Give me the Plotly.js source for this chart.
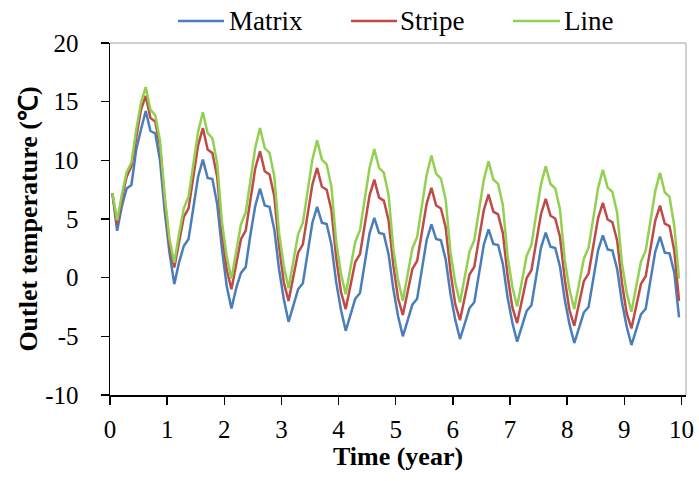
<!DOCTYPE html>
<html>
<head>
<meta charset="utf-8">
<script src="https://cdn.plot.ly/plotly-3.0.1.min.js"></script>
<style>html,body{margin:0;padding:0;background:#fff;}#chart{width:699px;height:481px;}</style>
</head>
<body>
<div id="chart"></div>
<script>
// Monthly samples over 10 years (mid-month), values in °C
var matrix = [
  7.2, 4.0, 6.1, 7.6, 7.9, 10.9, 12.6, 14.2, 12.5, 12.3, 10.0, 5.6,
  2.1, -0.55, 1.3, 2.7, 3.3, 6.0, 8.6, 10.06, 8.5, 8.4, 6.3, 2.5,
  -0.7, -2.63, -0.9, 0.4, 0.9, 3.7, 6.1, 7.6, 6.15, 6.03, 4.11, 0.7,
  -1.84, -3.76, -2.26, -0.99, -0.48, 2.13, 4.68, 6.04, 4.69, 4.58, 2.8, -0.38,
  -2.74, -4.53, -3.06, -1.8, -1.3, 1.26, 3.76, 5.1, 3.81, 3.71, 2.0, -0.97,
  -3.29, -5.0, -3.54, -2.3, -1.8, 0.73, 3.21, 4.54, 3.29, 3.19, 1.54, -1.39,
  -3.58, -5.23, -3.8, -2.59, -2.1, 0.38, 2.81, 4.11, 2.88, 2.79, 1.17, -1.7,
  -3.84, -5.46, -4.04, -2.83, -2.35, 0.12, 2.54, 3.83, 2.63, 2.53, 0.94, -1.87,
  -3.98, -5.57, -4.17, -2.97, -2.5, -0.06, 2.33, 3.6, 2.4, 2.31, 0.73, -2.07,
  -4.16, -5.74, -4.33, -3.13, -2.65, -0.19, 2.21, 3.49, 2.13, 2.08, 0.43, -3.39
];
var stripe = [
  7.2, 4.5, 6.8, 8.6, 9.5, 12.0, 14.3, 15.5, 13.6, 13.3, 11.2, 6.6,
  2.7, 0.86, 3.08, 5.18, 5.91, 8.59, 11.28, 12.75, 10.92, 10.62, 8.63, 4.04,
  0.69, -0.99, 1.21, 3.28, 4.01, 6.65, 9.31, 10.77, 9.07, 8.79, 6.94, 2.69,
  -0.42, -1.98, 0.14, 2.13, 2.84, 5.39, 7.94, 9.35, 7.75, 7.49, 5.74, 1.72,
  -1.21, -2.68, -0.62, 1.33, 2.01, 4.5, 6.99, 8.36, 6.82, 6.57, 4.89, 1.04,
  -1.78, -3.19, -1.16, 0.74, 1.42, 3.86, 6.31, 7.65, 6.15, 5.9, 4.27, 0.5,
  -2.25, -3.62, -1.62, 0.27, 0.93, 3.34, 5.76, 7.09, 5.63, 5.39, 3.8, 0.14,
  -2.53, -3.87, -1.89, -0.03, 0.63, 3.01, 5.41, 6.72, 5.28, 5.04, 3.47, -0.14,
  -2.78, -4.1, -2.14, -0.3, 0.35, 2.71, 5.08, 6.38, 4.96, 4.72, 3.17, -0.41,
  -3.02, -4.33, -2.37, -0.53, 0.12, 2.48, 4.85, 6.15, 4.6, 4.4, 2.3, -1.98
];
var line = [
  7.2, 4.9, 7.1, 9.0, 9.8, 12.6, 14.9, 16.24, 14.3, 13.85, 11.7, 6.9,
  3.3, 1.28, 3.73, 5.91, 6.92, 9.68, 12.42, 14.1, 12.33, 11.88, 9.81, 4.78,
  1.82, -0.1, 2.35, 4.54, 5.55, 8.32, 11.07, 12.75, 11.05, 10.63, 8.64, 3.83,
  0.99, -0.9, 1.56, 3.69, 4.68, 7.37, 10.06, 11.7, 10.06, 9.66, 7.74, 3.1,
  0.36, -1.41, 0.95, 3.06, 4.04, 6.7, 9.35, 10.97, 9.35, 8.95, 7.06, 2.47,
  -0.23, -1.98, 0.38, 2.49, 3.47, 6.13, 8.78, 10.4, 8.84, 8.45, 6.62, 2.19,
  -0.43, -2.12, 0.18, 2.23, 3.18, 5.77, 8.34, 9.92, 8.37, 7.99, 6.18, 1.8,
  -0.79, -2.46, -0.18, 1.86, 2.8, 5.37, 7.93, 9.5, 7.98, 7.6, 5.82, 1.51,
  -1.04, -2.68, -0.41, 1.61, 2.55, 5.1, 7.64, 9.2, 7.68, 7.31, 5.54, 1.26,
  -1.28, -2.91, -0.65, 1.36, 2.3, 4.85, 7.38, 8.93, 7.28, 6.89, 4.39, -0.08
];
var seriesNames = ["Matrix", "Stripe", "Line"];
var xTicks = [0, 1, 2, 3, 4, 5, 6, 7, 8, 9, 10];
var yTicks = [-10, -5, 0, 5, 10, 15, 20];
var samplesPerYear = 12;

var time = matrix.map(function (_, i) { return (i + 0.5) / samplesPerYear; });
var colors = ["#4A7EBB", "#BE4B48", "#92D050"];
var series = [matrix, stripe, line];

var font = "Liberation Serif";
var W = 699, H = 481, M = {l: 110, r: 13, t: 43, b: 86};
var pw = W - M.l - M.r, ph = H - M.t - M.b;
function px(x) { return (x - M.l) / pw; }
function py(y) { return (H - M.b - y) / ph; }

var traces = series.map(function (s, i) {
  return {
    x: time, y: s, type: "scatter", mode: "lines", name: seriesNames[i],
    line: {color: colors[i], width: 2.5}, showlegend: false
  };
});

// Manual legend (Excel-style long line samples)
var legendLines = [[178, 224], [351, 397], [513, 560]];
var legendText = [229, 400, 564];
var legendY = 21;
var shapes = [
  {type: "line", xref: "paper", yref: "paper", x0: 0, x1: 1, y0: 1, y1: 1, line: {color: "#BFBFBF", width: 1.5}},
  {type: "line", xref: "paper", yref: "paper", x0: 1, x1: 1, y0: 0, y1: 1, line: {color: "#BFBFBF", width: 1.5}}
];
var annotations = [];
seriesNames.forEach(function (n, i) {
  shapes.push({type: "line", xref: "paper", yref: "paper",
    x0: px(legendLines[i][0]), x1: px(legendLines[i][1]), y0: py(legendY), y1: py(legendY),
    line: {color: colors[i], width: 2.5}});
  annotations.push({xref: "paper", yref: "paper", x: px(legendText[i] - 2), y: py(legendY),
    xanchor: "left", yanchor: "middle", showarrow: false, text: n,
    font: {family: font, size: 27, color: "#000"}});
});

var layout = {
  width: W, height: H,
  margin: M,
  paper_bgcolor: "#fff", plot_bgcolor: "#fff",
  font: {family: font, color: "#000", size: 25},
  showlegend: false,
  xaxis: {
    range: [0, 10.08], tickvals: xTicks, ticktext: xTicks.map(String),
    showgrid: false, zeroline: false, showline: true, linecolor: "#000", linewidth: 1.5,
    ticks: "outside", ticklen: 8, tickwidth: 1.5, tickcolor: "#000",
    ticklabelstandoff: 3,
    tickfont: {family: font, size: 25, color: "#000"},
    title: {text: "<b>Time (year)</b>", font: {family: font, size: 26, color: "#000"}, standoff: 5},
    automargin: false
  },
  yaxis: {
    range: [-10, 20], tickvals: yTicks, ticktext: yTicks.map(String),
    showgrid: false, zeroline: false, showline: true, linecolor: "#000", linewidth: 1.5,
    ticks: "outside", ticklen: 8, tickwidth: 1.5, tickcolor: "#000",
    ticklabelstandoff: 17,
    tickfont: {family: font, size: 25, color: "#000"},
    title: {text: "<b>Outlet temperature (℃)</b>", font: {family: font, size: 26, color: "#000"}, standoff: 0},
    automargin: false
  },
  shapes: shapes,
  annotations: annotations
};

Plotly.newPlot("chart", traces, layout, {displayModeBar: false, staticPlot: true});
</script>
</body>
</html>
